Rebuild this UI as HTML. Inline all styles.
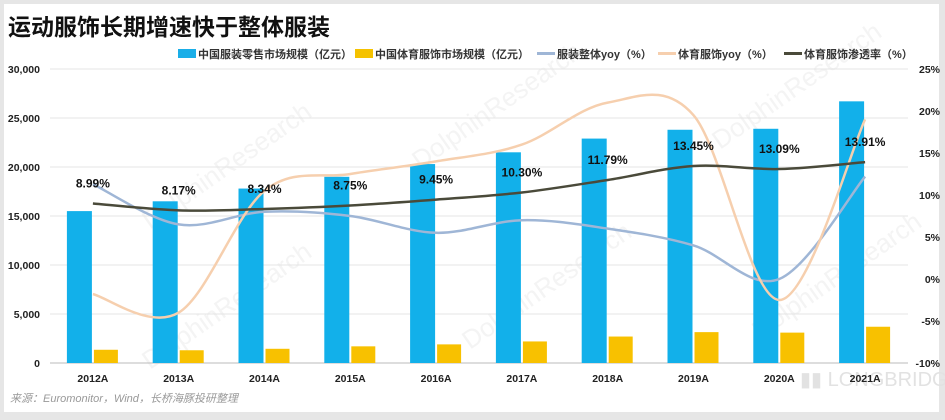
<!DOCTYPE html>
<html><head><meta charset="utf-8"><style>
body{margin:0;background:#fff;}
#wrap{position:relative;width:945px;height:420px;overflow:hidden;background:#fff;font-family:"Liberation Sans","Noto Sans CJK SC",sans-serif;}
</style></head><body>
<div id="wrap">
<svg id="c" width="945" height="420"></svg>
</div>
<script>
const categories=["2012A","2013A","2014A","2015A","2016A","2017A","2018A","2019A","2020A","2021A"];
const apparelMarket=[15500,16500,17800,19000,20300,21500,22900,23800,23900,26700];
const sportsMarket=[1350,1300,1450,1700,1900,2200,2700,3150,3100,3700];
const apparelYoy=[11.3,6.5,8,7.5,5.5,7,6,4,0,12.2];
const sportsYoy=[-1.8,-4,10.5,12.5,14,16,21,19.5,-2.5,19];
const penetration=[8.99,8.17,8.34,8.75,9.45,10.30,11.79,13.45,13.09,13.91];
const leftTicks=[0,5000,10000,15000,20000,25000,30000];
const rightTicks=[-10,-5,0,5,10,15,20,25];

const NS="http://www.w3.org/2000/svg";
const svg=document.getElementById('c');
function el(t,a,p){const e=document.createElementNS(NS,t);for(const k in a)e.setAttribute(k,a[k]);(p||svg).appendChild(e);return e;}
const X0=50,X1=908,Y0=363,Y1=69;
const band=(X1-X0)/categories.length;
const xc=i=>X0+band*(i+0.5);
const yL=v=>Y0-(v/30000)*(Y0-Y1);
const yR=v=>Y0-((v+10)/35)*(Y0-Y1);

// frame
el('rect',{x:0,y:0,width:945,height:420,fill:'#e6e6e6'});
el('rect',{x:4,y:4,width:935,height:408,fill:'#fff'});

// watermarks
[[150,230],[420,170],[720,150],[150,370],[470,350],[760,340]].forEach(p=>{const tx=el('text',{x:p[0],y:p[1],'font-size':26,fill:'#f4f4f4',transform:`rotate(-35 ${p[0]} ${p[1]})`});tx.textContent='DolphinResearch';});
let t=el('text',{x:800,y:386,'font-size':20,fill:'#e2e2e2'});t.textContent='▮▮ LONGBRIDGE';

t=el('text',{x:8,y:35,'font-size':23,'font-weight':'bold',fill:'#111'});t.textContent='运动服饰长期增速快于整体服装';


// legend
const leg=[['rect','#1aaee8','中国服装零售市场规模（亿元）',178],['rect','#f5c200','中国体育服饰市场规模（亿元）',355],['line','#9fb6d6','服装整体yoy（%）',537],['line','#f6cfae','体育服饰yoy（%）',658],['line','#4a4a3a','体育服饰渗透率（%）',784]];
leg.forEach(l=>{const g=el('g',{});

if(l[0]=='rect')el('rect',{x:l[3],y:49,width:18,height:9,fill:l[1]},g);else el('line',{x1:l[3],y1:53.5,x2:l[3]+18,y2:53.5,stroke:l[1],'stroke-width':3},g);
const tx=el('text',{x:l[3]+20,y:58,'font-size':11,'font-weight':'bold',fill:'#333'},g);tx.textContent=l[2];});

// grid and ticks
leftTicks.forEach(v=>{const y=yL(v);el('line',{x1:X0,x2:X1,y1:y,y2:y,stroke:v==0?'#bbb':'#e4e4e4','stroke-width':1});
const tx=el('text',{x:40,y:y+4,'text-anchor':'end','font-size':10.5,'font-weight':'bold',fill:'#222'});tx.textContent=v.toLocaleString('en-US');
});
rightTicks.forEach(v=>{const tx=el('text',{x:940,y:yR(v)+4,'text-anchor':'end','font-size':10.5,'font-weight':'bold',fill:'#222'});tx.textContent=v+'%';
});

// bars
categories.forEach((c,i)=>{
 let r=el('rect',{x:xc(i)-26,y:yL(apparelMarket[i]),width:25,height:Y0-yL(apparelMarket[i]),fill:'#12b0ea'});
 
 r=el('rect',{x:xc(i)+1,y:yL(sportsMarket[i]),width:24,height:Y0-yL(sportsMarket[i]),fill:'#f8c100'});
 
 const tx=el('text',{x:xc(i),y:382,'text-anchor':'middle','font-size':10.5,'font-weight':'bold',fill:'#222'});tx.textContent=c;
 
});

function smooth(pts){let d=`M${pts[0][0]},${pts[0][1]}`;for(let i=0;i<pts.length-1;i++){const p0=pts[Math.max(0,i-1)],p1=pts[i],p2=pts[i+1],p3=pts[Math.min(pts.length-1,i+2)];
d+=` C${p1[0]+(p2[0]-p0[0])/6},${p1[1]+(p2[1]-p0[1])/6} ${p2[0]-(p3[0]-p1[0])/6},${p2[1]-(p3[1]-p1[1])/6} ${p2[0]},${p2[1]}`;}return d;}
function line(arr,color,w,name){const p=el('path',{d:smooth(arr.map((v,i)=>[xc(i),yR(v)])),fill:'none',stroke:color,'stroke-width':w});
}
line(apparelYoy,'#9fb6d6',2.5,'line-apparel-yoy');
line(sportsYoy,'#f6cfae',2.5,'line-sports-yoy');
line(penetration,'#4a4a3a',2.5,'line-penetration');
penetration.forEach((v,i)=>{const tx=el('text',{x:xc(i),y:yR(v)-16,'text-anchor':'middle','font-size':12,'font-weight':'bold',fill:'#111'});tx.textContent=v.toFixed(2)+'%';
});

t=el('text',{x:10,y:402,'font-size':11,'font-style':'italic',fill:'#999'});t.textContent='来源：Euromonitor，Wind，长桥海豚投研整理';

</script>
</body></html>
